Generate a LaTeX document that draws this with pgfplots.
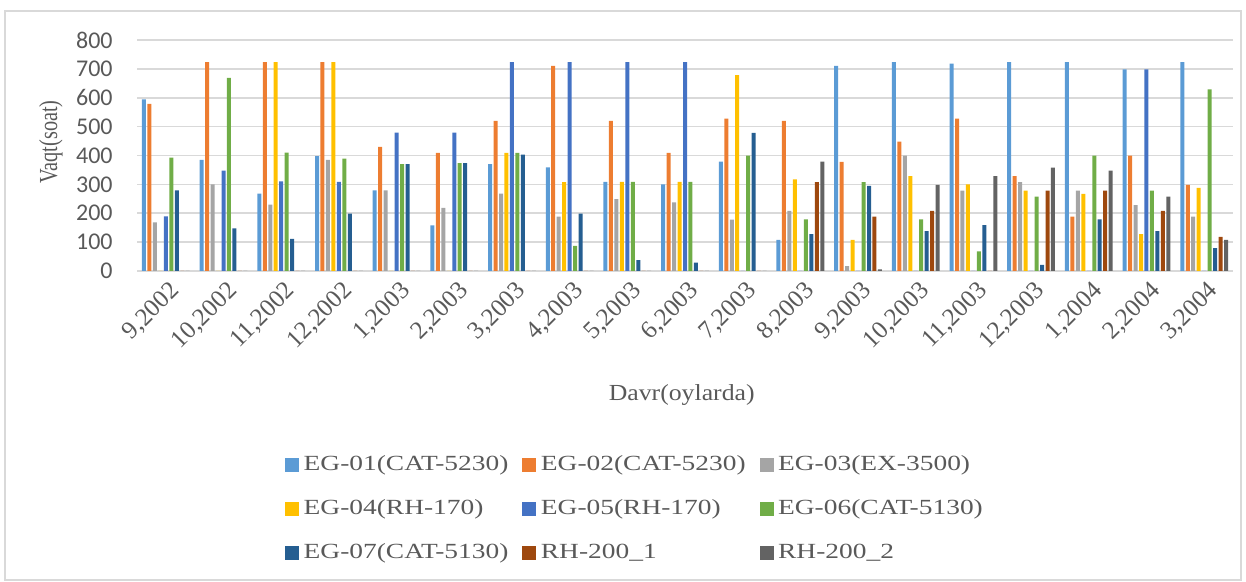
\documentclass[border=0pt]{standalone}
\usepackage{pgfplots}
\pgfplotsset{compat=1.18}
\usepackage{pgfplotstable}
\usepackage{fontspec}
\setmainfont{Liberation Serif}
\newfontfamily\legfont{Liberation Serif}[FakeStretch=1.27]
\newfontfamily\xlabfont{Liberation Serif}[FakeStretch=1.12]
\newfontfamily\ylabfont{Liberation Serif}[FakeStretch=0.78]
\newfontfamily\tickfont{Carlito}
\definecolor{txt}{HTML}{595959}
\definecolor{gridc}{HTML}{D9D9D9}
\definecolor{c1}{HTML}{5B9BD5}
\definecolor{c2}{HTML}{ED7D31}
\definecolor{c3}{HTML}{A5A5A5}
\definecolor{c4}{HTML}{FFC000}
\definecolor{c5}{HTML}{4472C4}
\definecolor{c6}{HTML}{70AD47}
\definecolor{c7}{HTML}{255E91}
\definecolor{c8}{HTML}{9E480E}
\definecolor{c9}{HTML}{636363}
\pgfplotsset{sqleg/.style={legend image code/.code={\fill[##1,draw=none] (0pt,-3.5pt) rectangle (7pt,3.5pt);}}}

\pgfplotstableread{
x  a   b   c   d   e   f   g   h   i
0  594 579 168 0   189 393 279 0   0
1  385 723 300 0   348 669 148 0   0
2  268 723 230 723 310 410 111 0   0
3  398 723 385 723 309 389 199 0   0
4  279 430 279 0   479 370 370 0   0
5  158 409 219 0   479 374 374 0   0
6  370 520 268 409 723 409 403 0   0
7  359 710 188 308 723 87  199 0   0
8  309 520 249 309 723 309 38  0   0
9  300 409 238 309 723 309 29  0   0
10 379 528 178 678 0   400 478 0   0
11 108 520 208 317 0   179 128 308 379
12 710 378 17  108 0   308 295 188 6
13 723 448 400 329 0   179 138 208 298
14 718 528 278 300 0   68  159 0   329
15 723 329 308 278 0   258 21  278 358
16 723 188 278 267 0   400 179 278 348
17 698 400 228 128 698 278 138 208 258
18 723 298 188 288 0   629 79  118 108
}\data

\begin{document}
\begin{tikzpicture}
\useasboundingbox (0,0) rectangle (623pt,291pt);
\draw[color=gridc, line width=0.75pt] (2.5pt,1pt) rectangle (620.5pt,285.5pt);
\begin{axis}[
  at={(68.5pt,155.5pt)}, anchor=south west,
  scale only axis, width=548pt, height=115.5pt,
  ybar=0.735pt, bar width=2pt,
  xmin=-0.5, xmax=18.5, ymin=0, ymax=800,
  xtick={0,...,18},
  xticklabels={{9,2002},{10,2002},{11,2002},{12,2002},{1,2003},{2,2003},{3,2003},{4,2003},{5,2003},{6,2003},{7,2003},{8,2003},{9,2003},{10,2003},{11,2003},{12,2003},{1,2004},{2,2004},{3,2004}},
  ytick={0,100,...,800},
  ymajorgrids, grid style={color=gridc, line width=0.75pt},
  axis line style={draw=none}, major tick length=0pt,
  /pgf/number format/assume math mode=true,
  yticklabel style={font=\tickfont\fontsize{12}{14}\selectfont, text=txt, anchor=east, inner sep=0pt, xshift=-12pt},
  xticklabel style={font=\fontsize{12.5}{14}\selectfont, text=txt, rotate=45, anchor=north east, inner sep=0pt, yshift=-4pt, xshift=-2pt},
  xlabel={Davr(oylarda)},
  xlabel style={font=\xlabfont\fontsize{11.5}{13}\selectfont, text=txt, at={(axis description cs:0.497,-0.535)}, anchor=center},
  ylabel={Vaqt(soat)},
  ylabel style={font=\ylabfont\fontsize{13}{15}\selectfont, text=txt, at={(axis description cs:-0.0785,0.558)}, anchor=center},
  legend columns=3,
  legend cell align=left,
  legend style={at={(0.4535,-1.0303)}, anchor=center, draw=none, fill=none, inner sep=0pt,
    font=\legfont\fontsize{10.8}{12}\selectfont, text=txt,
    row sep=13pt, column sep=2.25pt,
    nodes={inner sep=0pt},
    /tikz/every even column/.append style={column sep=7pt}},
]
\addplot[fill=c1, draw=none, sqleg] table[x=x,y=a]{\data};
\addplot[fill=c2, draw=none, sqleg] table[x=x,y=b]{\data};
\addplot[fill=c3, draw=none, sqleg] table[x=x,y=c]{\data};
\addplot[fill=c4, draw=none, sqleg] table[x=x,y=d]{\data};
\addplot[fill=c5, draw=none, sqleg] table[x=x,y=e]{\data};
\addplot[fill=c6, draw=none, sqleg] table[x=x,y=f]{\data};
\addplot[fill=c7, draw=none, sqleg] table[x=x,y=g]{\data};
\addplot[fill=c8, draw=none, sqleg] table[x=x,y=h]{\data};
\addplot[fill=c9, draw=none, sqleg] table[x=x,y=i]{\data};
\legend{EG-01(CAT-5230),EG-02(CAT-5230),EG-03(EX-3500),EG-04(RH-170),EG-05(RH-170),EG-06(CAT-5130),EG-07(CAT-5130),RH-200\_1,RH-200\_2}
\end{axis}
\end{tikzpicture}
\end{document}
